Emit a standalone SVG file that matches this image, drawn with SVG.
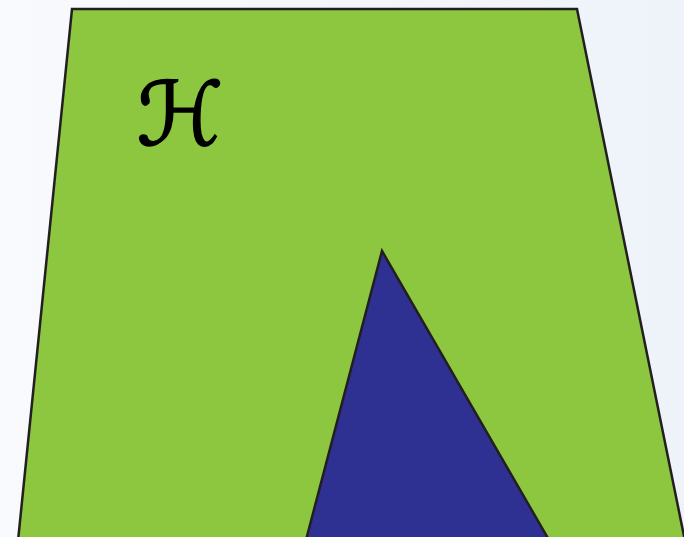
<svg xmlns="http://www.w3.org/2000/svg" width="684" height="537" viewBox="0 0 684 537">
<defs>
<linearGradient id="bg" x1="0" y1="0" x2="1" y2="0">
<stop offset="0" stop-color="#F8FAFD"/>
<stop offset="1" stop-color="#EEF3FA"/>
</linearGradient>
</defs>
<style>
.shape{stroke:#231F20;stroke-width:2.5;stroke-linejoin:miter}
.lbl{font-family:"DejaVu Sans","Liberation Sans",sans-serif;font-size:88px;fill:#000;stroke:#000;stroke-width:1.5}
</style>
<rect width="684" height="537" fill="url(#bg)"/>
<g id="space">
<polygon class="shape" fill="#8DC63F" points="72,9 577,9 685,541 18,541"/>
<text class="lbl" x="180" y="145" text-anchor="middle">ℋ</text>
</g>
<g id="triangle">
<polygon class="shape" fill="#2E3192" points="382,251 549,540 306,540"/>
</g>
<g id="connectors"/>
</svg>
